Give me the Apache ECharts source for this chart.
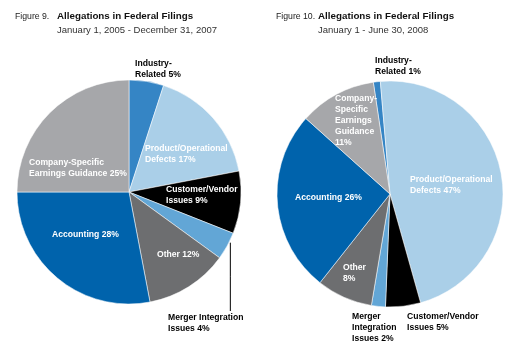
<!DOCTYPE html>
<html><head><meta charset="utf-8">
<script src="https://cdn.jsdelivr.net/npm/echarts@6/dist/echarts.min.js"></script>
<style>html,body{margin:0;padding:0;background:#fff}#c{width:528px;height:361px}</style>
</head><body><div id="c"></div>
<script>
// ---- data ----
const categories = ['Industry-Related','Product/Operational Defects','Customer/Vendor Issues','Merger Integration Issues','Other','Accounting','Company-Specific Earnings Guidance'];
const values2005to2007 = [5,17,9,4,12,28,25];
const values2008H1 = [1,47,5,2,8,26,11];
const labelText1 = ['Industry-\nRelated #%','Product/Operational\nDefects #%','Customer/Vendor\nIssues #%','Merger Integration\nIssues #%','Other #%','Accounting #%','Company-Specific\nEarnings Guidance #%'];
const labelText2 = ['Industry-\nRelated #%','Product/Operational\nDefects #%','Customer/Vendor\nIssues #%','Merger\nIntegration\nIssues #%','Other\n#%','Accounting #%','Company-\nSpecific\nEarnings\nGuidance\n#%'];
const figureLabels = ['Figure 9.','Figure 10.'];
const chartTitles = ['Allegations in Federal Filings','Allegations in Federal Filings'];
const periods = ['January 1, 2005 - December 31, 2007','January 1 - June 30, 2008'];

// ---- styles / layout ----
const colors = ['#3585c5','#aacfe8','#000000','#62a6d6','#6d6e70','#0063ac','#a6a7aa'];
const labelColor1 = ['#000','#fff','#fff','#000','#fff','#fff','#fff'];
const labelColor2 = ['#000','#fff','#000','#000','#fff','#fff','#fff'];
const outside1 = [true,false,false,true,false,false,false];
const outside2 = [true,false,true,true,false,false,false];
const labelPos1 = [[135,58.5],[145,143.5],[166,184.5],[168,312.5],[157,249.5],[52,229.5],[29,157.5]];
const labelPos2 = [[375,55.5],[410,174.5],[407,311.5],[352,311.5],[343,262.5],[295,192.5],[335,93.5]];
const FONT = 'Liberation Sans';
const pie1 = {center:[129,192], r:112, start:90};
const pie2 = {center:[390,194], r:113, start:98.5};

function buildData(values, texts, lc, outside){
  return categories.map((name,i)=>({
    name: name, value: values[i],
    itemStyle:{color: colors[i]},
    label:{position: outside[i] ? 'outside' : 'inside', color: lc[i],
      formatter: texts[i].replace('#', values[i])},
    labelLine:{show: false}
  }));
}

const data1 = buildData(values2005to2007, labelText1, labelColor1, outside1);
const data2 = buildData(values2008H1, labelText2, labelColor2, outside2);
// leader line for merger label in first pie
data1[3].labelLine = {show:true, lineStyle:{color:'#000', width:1}};

function leaderPoints(){
  const total = values2005to2007.reduce((a,b)=>a+b,0);
  let before = 0; for (let i=0;i<3;i++) before += values2005to2007[i];
  const frac = (before + values2005to2007[3]*0.25)/total;
  const ang = frac*2*Math.PI;
  const x = pie1.center[0] + pie1.r*Math.sin(ang);
  const y = pie1.center[1] - pie1.r*Math.cos(ang) + 3;
  return [[x,y],[x,(y+311)/2],[x,311]];
}

function makeSeries(pie, data, pos, isFirst){
  return {
    type:'pie', center: pie.center, radius: pie.r, startAngle: pie.start, clockwise:true,
    avoidLabelOverlap:false, silent:true, animation:false,
    itemStyle:{borderColor:'rgba(255,255,255,0.65)', borderWidth:0.8},
    label:{show:true, fontFamily:FONT, fontWeight:'bold', fontSize:8.6, lineHeight:11},
    emphasis:{disabled:true},
    data: data,
    labelLayout: function(params){
      const p = pos[params.dataIndex];
      const res = {x:p[0], y:p[1], align:'left', verticalAlign:'top'};
      if (isFirst && params.dataIndex === 3) res.labelLinePoints = leaderPoints();
      return res;
    }
  };
}

const titleItems = [];
const titleX = [[15,57],[276,318]];
for (let k=0;k<2;k++){
  titleItems.push({text:figureLabels[k], left:titleX[k][0], top:12, padding:0,
    textStyle:{fontFamily:FONT, fontWeight:'normal', fontSize:8.7, color:'#222'}});
  titleItems.push({text:chartTitles[k], left:titleX[k][1], top:11.5, padding:0,
    textStyle:{fontFamily:FONT, fontWeight:'bold', fontSize:9.8, color:'#111'}});
  titleItems.push({text:periods[k], left:titleX[k][1], top:25.5, padding:0,
    textStyle:{fontFamily:FONT, fontWeight:'normal', fontSize:9.5, color:'#333'}});
}

const chart = echarts.init(document.getElementById('c'), null, {renderer:'canvas'});
chart.setOption({
  animation:false,
  backgroundColor:'#fff',
  title: titleItems,
  series:[ makeSeries(pie1, data1, labelPos1, true), makeSeries(pie2, data2, labelPos2, false) ]
});
</script></body></html>
